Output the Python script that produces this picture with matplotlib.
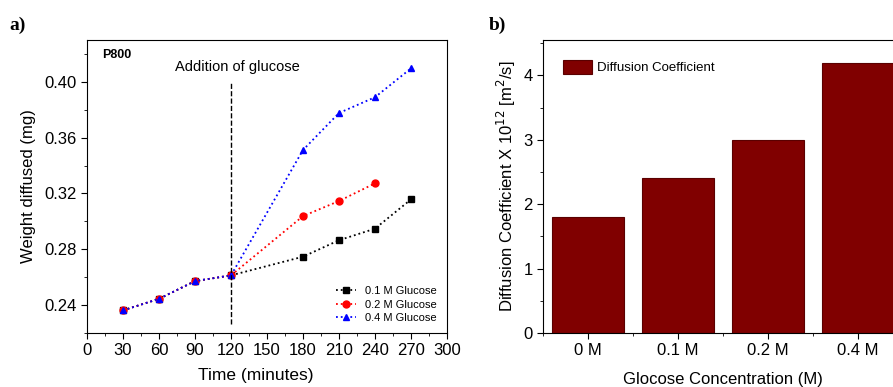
import matplotlib
matplotlib.use("Agg")
import matplotlib.pyplot as plt
from matplotlib.ticker import MultipleLocator, FormatStrFormatter

plt.rcParams["font.family"] = ["Liberation Sans", "DejaVu Sans"]

# ---- panel a data ----
t_base = [30, 60, 90, 120]
w_base = [0.2362, 0.2445, 0.2572, 0.2613]
t_01 = [180, 210, 240, 270]
w_01 = [0.2747, 0.2865, 0.2948, 0.3158]
t_02 = [180, 210, 240]
w_02 = [0.3038, 0.3146, 0.3273]
t_04 = [180, 210, 240, 270]
w_04 = [0.3512, 0.3777, 0.389, 0.4097]

# ---- panel b data ----
conc_labels = ["0 M", "0.1 M", "0.2 M", "0.4 M"]
diff_coef = [1.8, 2.4, 3.0, 4.2]

fig = plt.figure(figsize=(8.93, 3.87), dpi=100)

# ───────── a) ─────────
ax1 = fig.add_axes([0.0974, 0.1395, 0.4032, 0.7571])
series = [(t_01, w_01, "k", "s", "0.1 M Glucose"),
          (t_02, w_02, "red", "o", "0.2 M Glucose"),
          (t_04, w_04, "blue", "^", "0.4 M Glucose")]
for t, w, c, m, lab in series:
    ax1.plot(t_base + t, w_base + w, ls=":", lw=1.3, color=c, marker=m,
             ms=5, label=lab)
ax1.axvline(120, ymin=(0.2266 - 0.22) / 0.21, ymax=(0.40 - 0.22) / 0.21,
            color="k", ls="--", lw=1)
ax1.text(125, 0.4106, "Addition of glucose", ha="center", va="center", fontsize=10.5)
ax1.text(25, 0.4194, "P800", ha="center", va="center", fontsize=9, fontweight="bold")
ax1.set_xlim(0, 300)
ax1.set_ylim(0.22, 0.43)
ax1.xaxis.set_major_locator(MultipleLocator(30))
ax1.xaxis.set_minor_locator(MultipleLocator(15))
ax1.yaxis.set_minor_locator(MultipleLocator(0.02))
ax1.set_yticks([0.24, 0.28, 0.32, 0.36, 0.40])
ax1.yaxis.set_major_formatter(FormatStrFormatter("%.2f"))
ax1.tick_params(labelsize=12, direction="out", length=4)
ax1.tick_params(which="minor", length=2.5)
ax1.set_xlabel("Time (minutes)", fontsize=12.5)
ax1.xaxis.set_label_coords(0.47, -0.12)
ax1.set_ylabel("Weight diffused (mg)", fontsize=12, labelpad=6)
ax1.legend(loc="lower right", fontsize=8, frameon=False, handlelength=1.8,
           labelspacing=0.3, borderaxespad=0.5)
fig.text(0.011, 0.935, "a)", fontsize=14, fontweight="bold",
         family="Liberation Serif", va="center")

# ───────── b) ─────────
ax2 = fig.add_axes([0.608, 0.1395, 0.403, 0.7571])
x = range(len(diff_coef))
ax2.bar(x, diff_coef, width=0.8, color="#800000", edgecolor="#5a0000",
        lw=0.8, label="Diffusion Coefficient")
ax2.set_xlim(-0.5, 3.5)
ax2.set_ylim(0, 4.55)
ax2.set_xticks(list(x))
ax2.set_xticklabels(conc_labels)
ax2.xaxis.set_minor_locator(MultipleLocator(1, offset=0.5))
ax2.yaxis.set_major_locator(MultipleLocator(1))
ax2.yaxis.set_minor_locator(MultipleLocator(0.5))
ax2.tick_params(labelsize=12, direction="out", length=4)
ax2.tick_params(which="minor", length=2.5)
ax2.set_xlabel("Glocose Concentration (M)", fontsize=12, labelpad=10)
ax2.set_ylabel("Diffusion Coefficient X 10$^{12}$ [m$^2$/s]", fontsize=12)
ax2.legend(loc="upper left", fontsize=9.5, frameon=False, handlelength=2.2,
           handleheight=1.3, borderaxespad=1.1, handletextpad=0.4)
fig.text(0.547, 0.935, "b)", fontsize=14, fontweight="bold",
         family="Liberation Serif", va="center")

fig.savefig("out.png", dpi=100)
